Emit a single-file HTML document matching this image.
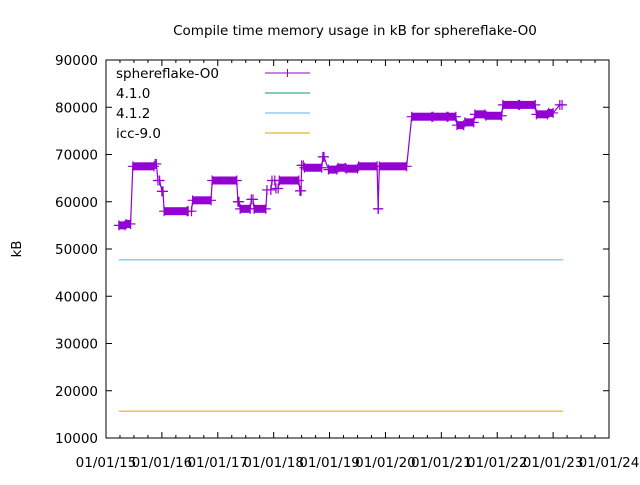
<!DOCTYPE html>
<html><head><meta charset="utf-8"><style>
body{margin:0;background:#fff}
svg text{font-family:"DejaVu Sans","Liberation Sans",sans-serif;font-size:13.5px;fill:#000}
</style></head><body>
<svg id="chart" width="640" height="480">
<text x="355" y="35" text-anchor="middle">Compile time memory usage in kB for sphereflake-O0</text>
<text transform="translate(21,249) rotate(-90)" text-anchor="middle">kB</text>
<g id="axes"></g>
<g id="series"></g>
<g id="legend"></g>
</svg>
<script>
const yTicks=[10000,20000,30000,40000,50000,60000,70000,80000,90000];
const xTickYears=[2015,2016,2017,2018,2019,2020,2021,2022,2023,2024];
const xTickLabels=["01/01/15","01/01/16","01/01/17","01/01/18","01/01/19","01/01/20","01/01/21","01/01/22","01/01/23","01/01/24"];
const segStart=[2015.23,2015.36,2015.48,2015.88,2015.93,2016.00,2016.04,2016.47,2016.55,2016.90,2017.36,2017.40,2017.60,2017.65,2017.88,2017.97,2018.04,2018.10,2018.47,2018.50,2018.55,2018.88,2018.98,2019.15,2019.30,2019.52,2019.87,2019.89,2020.47,2020.85,2021.12,2021.28,2021.42,2021.60,2021.80,2022.10,2022.40,2022.70,2022.92,2023.12];
const segEnd  =[2015.34,2015.44,2015.86,2015.90,2015.96,2016.02,2016.45,2016.53,2016.88,2017.34,2017.38,2017.58,2017.63,2017.86,2017.95,2018.02,2018.08,2018.45,2018.49,2018.53,2018.86,2018.90,2019.13,2019.28,2019.50,2019.85,2019.87,2020.38,2020.83,2021.10,2021.26,2021.40,2021.58,2021.78,2022.08,2022.38,2022.68,2022.90,2023.00,2023.16];
const segVal  =[55000,55300,67500,68000,64500,62200,58000,58000,60300,64500,60000,58500,60500,58500,62500,64500,62800,64500,62300,67700,67200,69500,66800,67200,67000,67500,58500,67500,78000,78000,78000,76200,76800,78500,78200,80500,80500,78500,78800,80500];
const ref412=47700, refIcc=15700, refStart=2015.23, refEnd=2023.18;

const X0=106,X1=609,Y0=438,Y1=60;
const xs=y=>X0+(y-2015)/9*(X1-X0);
const ys=v=>Y0-(v-10000)/80000*(Y0-Y1);
const NS="http://www.w3.org/2000/svg";
function mk(p,t,a){const e=document.createElementNS(NS,t);for(const k in a)e.setAttribute(k,a[k]);p.appendChild(e);return e;}
const ax=document.getElementById('axes');
const frame=mk(ax,'rect',{x:X0,y:Y1,width:X1-X0,height:Y0-Y1,fill:'none',stroke:'#000','stroke-width':1});


yTicks.forEach(v=>{const y=ys(v);
 mk(ax,'line',{x1:X0,x2:X0+6,y1:y,y2:y,stroke:'#000'});
 mk(ax,'line',{x1:X1,x2:X1-6,y1:y,y2:y,stroke:'#000'});
 const t=mk(ax,'text',{x:X0-8,y:y+5,'text-anchor':'end'});t.textContent=v;
 
 
});
xTickYears.forEach((yr,i)=>{const x=xs(yr);
 mk(ax,'line',{x1:x,x2:x,y1:Y0,y2:Y0-6,stroke:'#000'});
 mk(ax,'line',{x1:x,x2:x,y1:Y1,y2:Y1+6,stroke:'#000'});
 if(i<xTickYears.length-1)for(let q=1;q<4;q++){const xm=xs(yr+q/4);
  mk(ax,'line',{x1:xm,x2:xm,y1:Y0,y2:Y0-3,stroke:'#000'});
  mk(ax,'line',{x1:xm,x2:xm,y1:Y1,y2:Y1+3,stroke:'#000'});}
 const t=mk(ax,'text',{x:x,y:467,'text-anchor':'middle'});t.textContent=xTickLabels[i];
 
 
});
const sg=document.getElementById('series');
const l2=mk(sg,'line',{x1:xs(refStart),x2:xs(refEnd),y1:ys(ref412),y2:ys(ref412),stroke:'#56b4e9'});


const l3=mk(sg,'line',{x1:xs(refStart),x2:xs(refEnd),y1:ys(refIcc),y2:ys(refIcc),stroke:'#e69f00'});


const C='#9400d3';
let d='';
segStart.forEach((s,i)=>{const y=ys(segVal[i]);d+=(i?'L':'M')+xs(s)+','+y+'L'+xs(segEnd[i])+','+y;});
const pl=mk(sg,'path',{d:d,fill:'none',stroke:C,'stroke-width':1.2});


segStart.forEach((s,i)=>{const a=xs(s),b=xs(segEnd[i]),y=ys(segVal[i]);
 if(b-a>4){const r=mk(sg,'rect',{x:a,y:y-4,width:b-a,height:8,fill:C});
  
  }
 [a,b].forEach(x=>{const m=mk(sg,'path',{d:`M${x-5},${y}h10M${x},${y-5}v10`,stroke:C,'stroke-width':1.2});
  
  });
});
const lg=document.getElementById('legend');
[["sphereflake-O0",C],["4.1.0","#009e73"],["4.1.2","#56b4e9"],["icc-9.0","#e69f00"]].forEach((e,i)=>{
 const y=73+i*20;
 const t=mk(lg,'text',{x:116,y:y+5});t.textContent=e[0];
 
 
 const l=mk(lg,'line',{x1:265,x2:310,y1:y,y2:y,stroke:e[1]});
 
 
 if(i==0)mk(lg,'path',{d:`M287.5,${y-4}v8`,stroke:C});
});
</script>
</body></html>
